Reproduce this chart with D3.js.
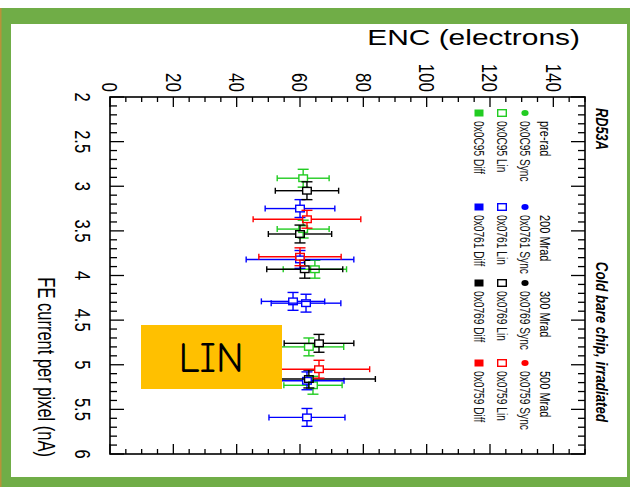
<!DOCTYPE html>
<html>
<head>
<meta charset="utf-8">
<script src="https://cdn.jsdelivr.net/npm/d3@7"></script>
<style>
  html, body { margin: 0; padding: 0; background: #fff; }
  svg { display: block; }
  text { font-family: "Liberation Sans", Arial, Helvetica, sans-serif; }
</style>
</head>
<body>
<svg id="chart" width="630" height="487"></svg>
<script>
// ---- data: ENC of the linear front end vs. FE current, per chip / dose ----
const doses  = ["pre-rad", "200 Mrad", "300 Mrad", "500 Mrad"];
const chips  = ["0x0C95", "0x0761", "0x0769", "0x0759"];
const flavours = ["Sync", "Lin", "Diff"];
const colors = ["#22cc22", "#0000ff", "#000000", "#ff0000"];

// each point: [FE current (nA), ENC (e), FE error, ENC error]
const linPreRad = [
  [2.91, 61.0, 0.10, 8.2],
  [3.48, 61.0, 0.10, 8.2],
  [3.93, 64.7, 0.10, 10.0],
  [4.80, 62.8, 0.10, 11.0],
  [5.23, 64.1, 0.10, 9.2]
];
const lin200 = [
  [3.25, 60.0, 0.10, 11.0],
  [3.82, 60.0, 0.10, 17.0],
  [4.29, 57.8, 0.10, 10.0],
  [4.31, 61.9, 0.10, 11.0],
  [5.18, 62.2, 0.10, 11.7],
  [5.59, 62.2, 0.10, 12.0]
];
const lin300 = [
  [3.05, 62.2, 0.10, 10.0],
  [3.535, 60.0, 0.10, 10.0],
  [3.93, 61.5, 0.10, 12.0],
  [4.76, 66.0, 0.10, 11.0],
  [5.16, 62.8, 0.10, 21.0]
];
const lin500 = [
  [3.37, 62.2, 0.10, 17.0],
  [3.79, 60.0, 0.10, 13.0],
  [5.05, 66.0, 0.10, 16.0]
];
const linSeries = [linPreRad, lin200, lin300, lin500];

const feTicksMajor = d3.range(2, 6.001, 0.5);
const feTicksMinor = d3.range(2, 6.001, 0.1);
const encTicksMajor = d3.range(0, 140.001, 20);
const encTicksMinor = d3.range(0, 150.001, 5);

const feTitle = "FE current per pixel (nA)";
const encTitle = "ENC (electrons)";
const title1 = "RD53A";
const title2 = "Cold bare chip, irradiated";
const boxLabel = "LIN";

// ---- page frame ----
const svg = d3.select("#chart");
svg.append("rect").attr("x", 0).attr("y", 0).attr("width", 630).attr("height", 487).attr("fill", "#fff");
svg.append("rect").attr("x", 0).attr("y", 8).attr("width", 630).attr("height", 479).attr("fill", "#70ad47");
svg.append("rect").attr("x", 0).attr("y", 8).attr("width", 1.5).attr("height", 479).attr("fill", "#b8923a");
svg.append("rect").attr("x", 11).attr("y", 24).attr("width", 616).attr("height", 453).attr("fill", "#fff");

// ---- plot, drawn in its own frame and turned a quarter clockwise ----
const W = 357, H = 475;        // FE axis length, ENC axis length
const k = 1.3;                 // horizontal stretch of the glyphs on the page
const plot = svg.append("g").attr("transform", "translate(585,97) rotate(90)");

const x = d3.scaleLinear().domain([2, 6]).range([0, W]);
const y = d3.scaleLinear().domain([0, 150]).range([H, 0]);

function label(g, px, py, str, o) {
  const t = g.append("text")
    .attr("transform", `translate(${px},${py}) rotate(${o.rot || 0}) scale(${o.sa || 1},${o.sh || 1})`)
    .attr("font-size", o.size)
    .attr("text-anchor", o.anchor || "start")
    .attr("dy", o.dy === undefined ? "0.35em" : o.dy)
    .attr("fill", o.fill || "#000")
    .text(str);
  if (o.weight) t.attr("font-weight", o.weight);
  if (o.style) t.attr("font-style", o.style);
  return t;
}

// frame
plot.append("rect").attr("x", 0).attr("y", 0).attr("width", W).attr("height", H)
  .attr("fill", "none").attr("stroke", "#000").attr("stroke-width", 1.6);

// ticks
const ticks = plot.append("g").attr("stroke", "#000").attr("stroke-width", 1.3);
encTicksMinor.forEach(v => {
  const len = (v % 20 === 0) ? 10 : 5;
  ticks.append("line").attr("x1", 0).attr("x2", len).attr("y1", y(v)).attr("y2", y(v));
  ticks.append("line").attr("x1", W).attr("x2", W - len).attr("y1", y(v)).attr("y2", y(v));
});
feTicksMinor.forEach(v => {
  const major = Math.abs(v * 2 - Math.round(v * 2)) < 1e-6;
  const len = major ? 14 : 7;
  ticks.append("line").attr("x1", x(v)).attr("x2", x(v)).attr("y1", H).attr("y2", H - len);
  ticks.append("line").attr("x1", x(v)).attr("x2", x(v)).attr("y1", 0).attr("y2", len);
});

// tick labels
feTicksMajor.forEach(v => label(plot, x(v), H + 27, d3.format("~g")(v), { size: 16.5, anchor: "middle", sh: k }));
encTicksMajor.forEach(v => label(plot, -5, y(v), String(v), { size: 17, anchor: "end", sh: k }));

// axis titles
label(plot, W + 3, H + 64, feTitle, { size: 16.5, anchor: "end", sh: 1.4 });
label(plot, -60, 5, encTitle, { size: 22.5, anchor: "end", rot: -90, sa: 1.33 });

// titles beside the frame
label(plot, 11, -17, title1, { size: 12.8, weight: "bold", style: "italic", sh: k });
label(plot, 325, -17, title2, { size: 13.3, anchor: "end", weight: "bold", style: "italic", sh: k });

// markers
function marker(g, type, cx, cy, color) {
  if (type === "Sync") {
    g.append("ellipse").attr("cx", cx).attr("cy", cy).attr("rx", 3).attr("ry", 3.6).attr("fill", color);
  } else if (type === "Lin") {
    g.append("rect").attr("x", cx - 3.3).attr("y", cy - 4.3).attr("width", 6.6).attr("height", 8.6)
      .attr("fill", "none").attr("stroke", color).attr("stroke-width", 1.4);
  } else {
    g.append("rect").attr("x", cx - 3.5).attr("y", cy - 4.5).attr("width", 7).attr("height", 9).attr("fill", color);
  }
}

// legend
const legU = [16, 110, 186, 266];
const legV = { head: 40, Sync: 60, Lin: 83, Diff: 106 };
const leg = plot.append("g");
doses.forEach((d, i) => {
  label(leg, legU[i] + 8, legV.head, d, { size: 11, sh: k });
  flavours.forEach(f => {
    marker(leg, f, legU[i], legV[f], colors[i]);
    label(leg, legU[i] + 8, legV[f], `${chips[i]} ${f}`, { size: 10.2, sh: 1.4, fill: "#111" });
  });
});

// error bars and markers of the linear front end
const pts = plot.append("g");
linSeries.forEach((series, i) => {
  const g = pts.append("g").attr("stroke", colors[i]).attr("stroke-width", 1.4).attr("fill", "none");
  series.forEach(([fe, enc, dfe, denc]) => {
    const cx = x(fe), cy = y(enc);
    const u0 = x(fe - dfe), u1 = x(fe + dfe);
    const v0 = y(enc - denc), v1 = y(enc + denc);
    // FE current error
    g.append("line").attr("x1", u0).attr("x2", cx - 3.3).attr("y1", cy).attr("y2", cy);
    g.append("line").attr("x1", cx + 3.3).attr("x2", u1).attr("y1", cy).attr("y2", cy);
    g.append("line").attr("x1", u0).attr("x2", u0).attr("y1", cy - 5.5).attr("y2", cy + 5.5);
    g.append("line").attr("x1", u1).attr("x2", u1).attr("y1", cy - 5.5).attr("y2", cy + 5.5);
    // ENC error
    g.append("line").attr("x1", cx).attr("x2", cx).attr("y1", v0).attr("y2", cy + 4.3);
    g.append("line").attr("x1", cx).attr("x2", cx).attr("y1", cy - 4.3).attr("y2", v1);
    g.append("line").attr("x1", cx - 3).attr("x2", cx + 3).attr("y1", v0).attr("y2", v0);
    g.append("line").attr("x1", cx - 3).attr("x2", cx + 3).attr("y1", v1).attr("y2", v1);
    marker(g, "Lin", cx, cy, colors[i]);
  });
});

// highlight box for the linear front end
svg.append("rect").attr("x", 141).attr("y", 325).attr("width", 141).attr("height", 64).attr("fill", "#ffc000");
svg.append("text").attr("x", 211).attr("y", 372).attr("text-anchor", "middle")
  .attr("font-size", 42)
  .style("font-family", "'Comic Sans MS', 'Comic Neue', 'DejaVu Sans', sans-serif")
  .attr("fill", "#000").text(boxLabel);
</script>
</body>
</html>
